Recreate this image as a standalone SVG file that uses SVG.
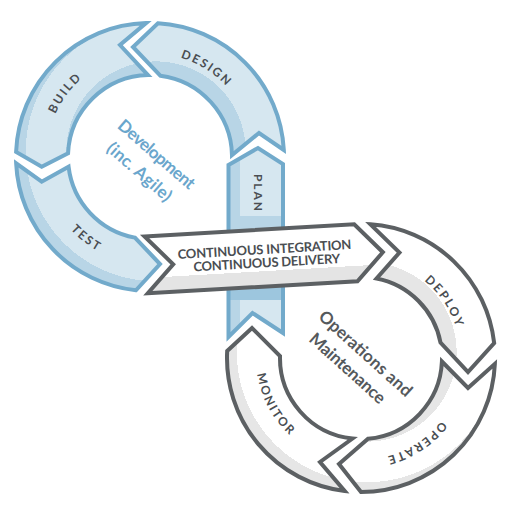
<svg xmlns="http://www.w3.org/2000/svg" width="512" height="512" viewBox="0 0 512 512">
<style>
.blue{fill:url(#gBlue);stroke:#72aacb;stroke-width:4;stroke-linejoin:miter}
.gray{fill:url(#gGray);stroke:#5c6063;stroke-width:4;stroke-linejoin:miter}
.lbl{font-family:Lato,"Open Sans","Liberation Sans",sans-serif;font-weight:700;font-size:12px;letter-spacing:2px;fill:#4a4e52}
.ci{font-family:Lato,"Open Sans","Liberation Sans",sans-serif;font-weight:700;font-size:13px;fill:#4a4e52}
.big{font-family:Lato,"Open Sans","Liberation Sans",sans-serif;font-weight:700;font-size:17px}
</style>
<defs>
<radialGradient id="gBlue" gradientUnits="userSpaceOnUse" cx="156" cy="151" r="140">
<stop offset="0" stop-color="#b8d5e6"/><stop offset="0.64" stop-color="#b8d5e6"/>
<stop offset="0.64" stop-color="#d6e7f0"/><stop offset="0.93" stop-color="#d6e7f0"/>
<stop offset="0.93" stop-color="#b8d5e6"/><stop offset="1" stop-color="#b8d5e6"/>
</radialGradient>
<radialGradient id="gGray" gradientUnits="userSpaceOnUse" cx="367" cy="352" r="140">
<stop offset="0" stop-color="#e6e6e6"/><stop offset="0.64" stop-color="#e6e6e6"/>
<stop offset="0.64" stop-color="#ffffff"/><stop offset="0.93" stop-color="#ffffff"/>
<stop offset="0.93" stop-color="#e6e6e6"/><stop offset="1" stop-color="#e6e6e6"/>
</radialGradient>
<linearGradient id="gPlan" gradientUnits="userSpaceOnUse" x1="228.5" y1="0" x2="283" y2="0">
<stop offset="0" stop-color="#b8d5e6"/><stop offset="0.22" stop-color="#b8d5e6"/>
<stop offset="0.22" stop-color="#d6e7f0"/><stop offset="1" stop-color="#d6e7f0"/>
</linearGradient>
<linearGradient id="gCI" gradientUnits="userSpaceOnUse" x1="0" y1="-28.5" x2="0" y2="28.5">
<stop offset="0" stop-color="#ffffff"/><stop offset="0.73" stop-color="#ffffff"/>
<stop offset="0.73" stop-color="#e4e4e4"/><stop offset="1" stop-color="#e4e4e4"/>
</linearGradient>
<path id="planShape" d="M228.5,165 L258,148 L283,164 L283,333 L252.5,313 L228.5,337 Z"/>
<path id="tDesign" d="M150,53 A104 104 0 0 1 244.26,113.05"/>
<path id="tBuild" d="M46.4,147.94 A104 104 0 0 1 112.73,59.91"/>
<path id="tTest" d="M48.98,193.77 A107.5 107.5 0 0 0 138.76,263.91"/>
<path id="tDeploy" d="M395.2,264.03 A100 100 0 0 1 460.94,361.49"/>
<path id="tOperate" d="M456.85,392.89 A102 102 0 0 1 353.88,459.75"/>
<path id="tMonitor" d="M256.4,348.85 A105 105 0 0 0 311.71,450.71"/>
</defs>

<g id="design">
<path class="blue" d="M283.82,149.99 A134 134 0 0 0 157.95,23.24 L133,47 L160.27,75.65 A82 82 0 0 1 231.98,155 L259,133 Z"/>
<text class="lbl"><textPath href="#tDesign" startOffset="50%" text-anchor="middle">DESIGN</textPath></text>
</g>
<g id="build">
<path class="blue" d="M146.02,23.06 A134 134 0 0 0 16.1,151.86 L41.7,166.7 L68.08,153.28 A82 82 0 0 1 148,75.02 L120,45 Z"/>
<text class="lbl"><textPath href="#tBuild" startOffset="50%" text-anchor="middle">BUILD</textPath></text>
</g>
<g id="test">
<path class="blue" d="M16.15,163.31 A134 134 0 0 0 135.99,290.27 L160,264 L134.92,237.6 A82 82 0 0 1 68.58,166.71 L41.7,181.7 Z"/>
<text class="lbl"><textPath href="#tTest" startOffset="50%" text-anchor="middle">TEST</textPath></text>
</g>
<g id="plan">
<use href="#planShape" fill="url(#gPlan)"/>
<rect x="228.5" y="216" width="54.5" height="20" fill="#b8d5e6"/>
<rect x="228.5" y="282" width="54.5" height="18" fill="#9dc6de"/>
<use href="#planShape" fill="none" stroke="#72aacb" stroke-width="4"/>
<text class="lbl" transform="translate(253.5,193.5) rotate(90)" text-anchor="middle">PLAN</text>
</g>
<g id="deploy">
<path class="gray" d="M370.49,224.34 A134 134 0 0 1 494.17,343.06 L468,372 L440.51,342.54 A81 81 0 0 0 376.59,278.52 L399.5,252.5 Z"/>
<text class="lbl"><textPath href="#tDeploy" startOffset="50%" text-anchor="middle">DEPLOY</textPath></text>
</g>
<g id="operate">
<path class="gray" d="M494.87,363.85 A134 134 0 0 1 361,492 L339,464 L368.06,438.69 A81 81 0 0 0 441.92,361.53 L468,388 Z"/>
<text class="lbl"><textPath href="#tOperate" startOffset="50%" text-anchor="middle">OPERATE</textPath></text>
</g>
<g id="monitor">
<path class="gray" d="M344.67,491 A134 134 0 0 1 227.18,350.99 L252,328 L280.02,356.02 A81 81 0 0 0 352.53,438.56 L320,462 Z"/>
<text class="lbl"><textPath href="#tMonitor" startOffset="50%" text-anchor="middle">MONITOR</textPath></text>
</g>
<g id="ci" transform="translate(265,258) rotate(-3.3)">
<path d="M-119,-28.5 L91,-28.5 L118,1 L91,28.5 L-119,28.5 L-92,1 Z" fill="url(#gCI)" stroke="#5c6063" stroke-width="4" stroke-linejoin="miter"/>
<text class="ci" x="0" y="-4" text-anchor="middle" textLength="174" lengthAdjust="spacing">CONTINUOUS INTEGRATION</text>
<text class="ci" x="1.5" y="9.3" text-anchor="middle" textLength="147" lengthAdjust="spacing">CONTINUOUS DELIVERY</text>
</g>
<g id="dev-label" transform="translate(147.5,164) rotate(41)">
<text class="big" fill="#6aa6cc" x="0.5" y="-7.4" text-anchor="middle" textLength="96" lengthAdjust="spacing">Development</text>
<text class="big" fill="#6aa6cc" x="-0.9" y="17" text-anchor="middle" textLength="80" lengthAdjust="spacing">(inc. Agile)</text>
</g>
<g id="ops-label" transform="translate(356,361.5) rotate(42)">
<text class="big" fill="#55595c" x="1.7" y="-6.5" text-anchor="middle" textLength="119" lengthAdjust="spacing">Operations and</text>
<text class="big" fill="#55595c" x="-1.7" y="16.5" text-anchor="middle" textLength="96" lengthAdjust="spacing">Maintenance</text>
</g>
<g id="connectors"></g>
</svg>
